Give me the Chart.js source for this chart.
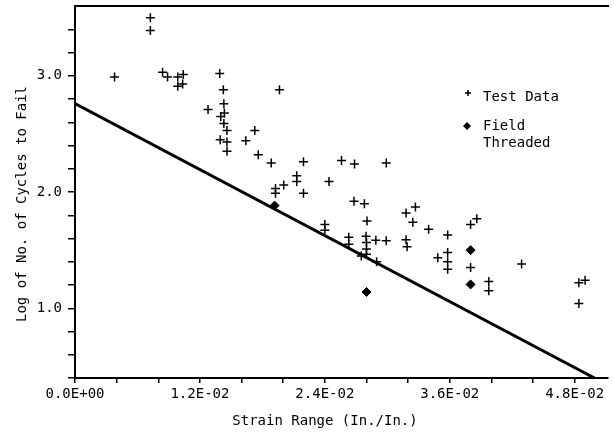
<!DOCTYPE html>
<html>
<head>
<meta charset="utf-8">
<script src="https://cdn.jsdelivr.net/npm/chart.js@4"></script>
<style>
  body { margin: 0; background: #fff; }
</style>
</head>
<body>
<canvas id="grafico" width="614" height="436"></canvas>
<script>
// test data (strain range, log cycles)
const testX = [0.00724,0.00724,0.00380,0.00841,0.00889,0.00987,0.01040,0.00987,0.01034,0.01390,
  0.01425,0.01964,0.01430,0.01278,0.01435,0.01400,0.01430,0.01460,0.01727,0.01395,
  0.01460,0.01641,0.01460,0.01760,0.01885,0.02195,0.02560,0.02685,0.02990,0.02130,
  0.02130,0.02440,0.02005,0.01926,0.01926,0.02195,0.02680,0.02780,0.02805,0.03180,
  0.03270,0.03245,0.03397,0.03580,0.03800,0.03860,0.02400,0.02400,0.02630,0.02630,
  0.02796,0.02800,0.02800,0.02800,0.02750,0.02890,0.02990,0.03180,0.03190,0.02897,
  0.03485,0.03580,0.03580,0.03580,0.03800,0.03975,0.03975,0.04290,0.04840,0.04900,0.04840];
const testY = [3.50,3.39,2.99,3.03,2.99,2.99,3.01,2.91,2.93,3.02,
  2.88,2.88,2.76,2.71,2.68,2.65,2.59,2.53,2.53,2.45,
  2.43,2.44,2.35,2.32,2.25,2.26,2.27,2.24,2.25,2.14,
  2.09,2.09,2.06,2.03,1.99,1.99,1.92,1.90,1.75,1.82,
  1.87,1.74,1.68,1.63,1.72,1.77,1.72,1.67,1.61,1.55,
  1.62,1.565,1.51,1.465,1.45,1.585,1.58,1.59,1.53,1.40,
  1.435,1.48,1.40,1.335,1.35,1.23,1.15,1.38,1.22,1.24,1.04];

// field threaded
const fieldX = [0.01917,0.02800,0.03800,0.03800];
const fieldY = [1.883,1.14,1.50,1.205];

// design line
const lineX = [0, 0.0499];
const lineY = [2.76, 0.4];

// ticks
const xTicks = [0,0.004,0.008,0.012,0.016,0.020,0.024,0.028,0.032,0.036,0.040,0.044,0.048];
const xLabeled = [0,0.012,0.024,0.036,0.048];
const yTicks = [0.4,0.6,0.8,1.0,1.2,1.4,1.6,1.8,2.0,2.2,2.4,2.6,2.8,3.0,3.2,3.4];
const yLabeled = [1.0,2.0,3.0];

const fonte = '"DejaVu Sans Mono", monospace';

function pontos(xs, ys){
  let r = [];
  for(let i = 0; i < xs.length; i++){
    r.push({x: xs[i], y: ys[i]});
  }
  return r;
}

function sci(v){
  if(Math.abs(v) < 1e-12) return '0.0E+00';
  let e = Math.floor(Math.log10(v) + 1e-9);
  let m = v / Math.pow(10, e);
  return m.toFixed(1) + 'E' + (e < 0 ? '-' : '+') + String(Math.abs(e)).padStart(2,'0');
}

function temLabel(v, lista){
  return lista.some(t => Math.abs(t - v) < 1e-9);
}

// legend + axis titles
const textos = {
  id: 'textos',
  afterDraw(chart){
    const ctx = chart.ctx;
    ctx.save();
    ctx.fillStyle = '#000';
    ctx.strokeStyle = '#000';
    ctx.font = '14px ' + fonte;
    ctx.textBaseline = 'middle';

    // x title
    ctx.textAlign = 'center';
    ctx.fillText('Strain Range (In./In.)', 325, 421);

    // y title
    ctx.save();
    ctx.translate(22, 204);
    ctx.rotate(-Math.PI/2);
    ctx.fillText('Log of No. of Cycles to Fail', 0, 0);
    ctx.restore();

    // legend
    ctx.textAlign = 'left';
    ctx.lineWidth = 1.5;
    ctx.beginPath();
    ctx.moveTo(465, 93); ctx.lineTo(471, 93);
    ctx.moveTo(468, 90); ctx.lineTo(468, 96);
    ctx.stroke();
    ctx.fillText('Test Data', 483, 97);

    ctx.beginPath();
    ctx.moveTo(467, 122); ctx.lineTo(471, 126); ctx.lineTo(467, 130); ctx.lineTo(463, 126);
    ctx.closePath();
    ctx.fill();
    ctx.fillText('Field', 483, 126);
    ctx.fillText('Threaded', 483, 143);
    ctx.restore();
  }
};

new Chart(document.getElementById('grafico'), {
  type: 'scatter',
  data: {
    datasets: [
      {
        label: 'Test Data',
        data: pontos(testX, testY),
        pointStyle: 'cross',
        pointRadius: 4.5,
        borderColor: '#000',
        borderWidth: 1.5
      },
      {
        label: 'Field Threaded',
        data: pontos(fieldX, fieldY),
        pointStyle: 'rectRot',
        pointRadius: 4.5,
        backgroundColor: '#000',
        borderColor: '#000',
        borderWidth: 1
      },
      {
        label: 'Design',
        data: pontos(lineX, lineY),
        showLine: true,
        pointRadius: 0,
        borderColor: '#000',
        borderWidth: 3
      }
    ]
  },
  options: {
    responsive: false,
    animation: false,
    layout: { padding: { top: 6, right: 2, left: 0, bottom: 0 } },
    plugins: { legend: { display: false }, tooltip: { enabled: false } },
    scales: {
      x: {
        type: 'linear',
        min: 0,
        max: 0.0512,
        afterBuildTicks: s => { s.ticks = xTicks.map(v => ({value: v})); },
        afterFit: s => { s.height = 58; s.paddingLeft = 0; s.paddingRight = 0; },
        grid: { drawOnChartArea: false, color: '#000', lineWidth: 1.5, tickLength: 5 },
        border: { color: '#000', width: 2 },
        ticks: {
          color: '#000',
          padding: 3,
          maxRotation: 0,
          autoSkip: false,
          font: { family: fonte, size: 14 },
          callback: v => temLabel(v, xLabeled) ? sci(v) : ''
        }
      },
      x2: {
        type: 'linear',
        position: 'top',
        min: 0,
        max: 0.0512,
        afterFit: s => { s.height = 0; s.paddingLeft = 0; s.paddingRight = 0; },
        grid: { drawOnChartArea: false, drawTicks: false },
        border: { color: '#000', width: 2 },
        ticks: { display: false }
      },
      y: {
        min: 0.4,
        max: 3.6,
        afterBuildTicks: s => { s.ticks = yTicks.map(v => ({value: v})); },
        afterFit: s => { s.width = 75; s.paddingTop = 0; s.paddingBottom = 0; },
        grid: { drawOnChartArea: false, color: '#000', lineWidth: 1.5, tickLength: 7 },
        border: { color: '#000', width: 2 },
        ticks: {
          color: '#000',
          padding: 6,
          autoSkip: false,
          font: { family: fonte, size: 14 },
          callback: v => temLabel(v, yLabeled) ? v.toFixed(1) : ''
        }
      }
    }
  },
  plugins: [textos]
});
</script>
</body>
</html>
